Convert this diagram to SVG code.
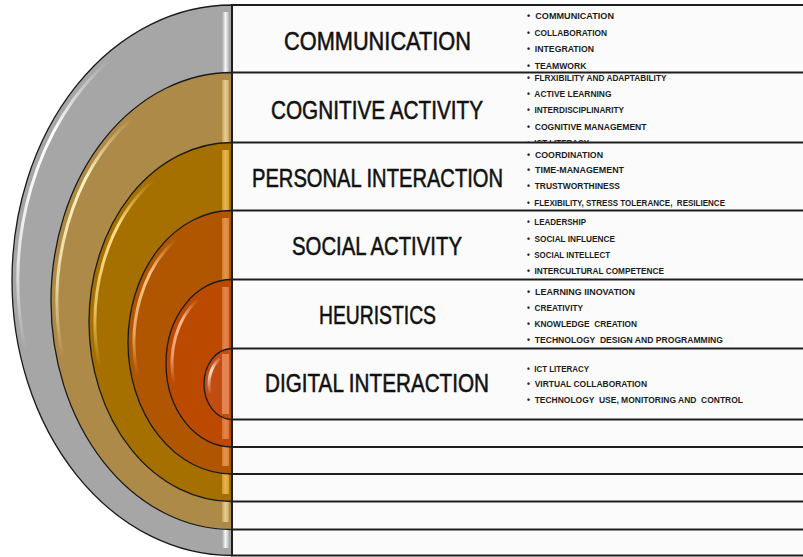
<svg xmlns="http://www.w3.org/2000/svg" width="803" height="557" viewBox="0 0 803 557">
<style>
.row{fill:#fbfbfb;stroke:#1e1e1e;stroke-width:2}
.ring{stroke:#1a1a1a;stroke-width:1.3}
.hl{fill:none;stroke-width:3;stroke-linecap:round;filter:url(#soft)}
.lbl{font-family:"Liberation Sans",Arial,sans-serif;font-size:26px;fill:#111;stroke:#111;stroke-width:0.55;text-anchor:end}
.itm{font-family:"Liberation Sans",Arial,sans-serif;font-weight:bold;font-size:9px;fill:#1c1c1c;white-space:pre}
</style>
<defs>
<filter id="soft" x="-20%" y="-20%" width="140%" height="140%"><feGaussianBlur stdDeviation="0.7"/></filter>
<linearGradient id="hlw" x1="0" y1="0" x2="0" y2="1"><stop offset="0" stop-color="#fff" stop-opacity="0"/><stop offset="0.25" stop-color="#fff" stop-opacity="1"/><stop offset="0.7" stop-color="#fff" stop-opacity="0.7"/><stop offset="1" stop-color="#fff" stop-opacity="0"/></linearGradient>
<linearGradient id="hlt" x1="0" y1="0" x2="0" y2="1"><stop offset="0" stop-color="#fff4c0" stop-opacity="0"/><stop offset="0.25" stop-color="#fff4c0" stop-opacity="1"/><stop offset="0.7" stop-color="#fff4c0" stop-opacity="0.7"/><stop offset="1" stop-color="#fff4c0" stop-opacity="0"/></linearGradient>
<linearGradient id="hlg" x1="0" y1="0" x2="0" y2="1"><stop offset="0" stop-color="#ffe08a" stop-opacity="0"/><stop offset="0.25" stop-color="#ffe08a" stop-opacity="1"/><stop offset="0.7" stop-color="#ffe08a" stop-opacity="0.7"/><stop offset="1" stop-color="#ffe08a" stop-opacity="0"/></linearGradient>
<linearGradient id="hlb" x1="0" y1="0" x2="0" y2="1"><stop offset="0" stop-color="#ffc488" stop-opacity="0"/><stop offset="0.25" stop-color="#ffc488" stop-opacity="1"/><stop offset="0.7" stop-color="#ffc488" stop-opacity="0.7"/><stop offset="1" stop-color="#ffc488" stop-opacity="0"/></linearGradient>
<linearGradient id="hlr" x1="0" y1="0" x2="0" y2="1"><stop offset="0" stop-color="#ffb890" stop-opacity="0"/><stop offset="0.25" stop-color="#ffb890" stop-opacity="1"/><stop offset="0.7" stop-color="#ffb890" stop-opacity="0.7"/><stop offset="1" stop-color="#ffb890" stop-opacity="0"/></linearGradient>
<linearGradient id="hls" x1="0" y1="0" x2="0" y2="1"><stop offset="0" stop-color="#ffe4d0" stop-opacity="0.2"/><stop offset="0.35" stop-color="#ffe4d0" stop-opacity="1"/><stop offset="1" stop-color="#ffe4d0" stop-opacity="0.1"/></linearGradient>
<linearGradient id="strip" x1="0" y1="0" x2="1" y2="0"><stop offset="0" stop-color="#fff" stop-opacity="0"/><stop offset="0.5" stop-color="#fff" stop-opacity="1"/><stop offset="1" stop-color="#fff" stop-opacity="0.2"/></linearGradient>
<clipPath id="c2"><rect x="232" y="74" width="571" height="69"/></clipPath>
</defs>

<g id="layer-communication">
<path class="ring" d="M232,5 A220,275.25 0 0 0 232,555.5 Z" fill="#a6a6a6"/>
<path class="hl" d="M109.3,59.9 A214,269 0 0 0 25.3,349.9" stroke="url(#hlw)"/>
<rect x="222" y="12" width="7" height="536" fill="url(#strip)" opacity="0.9"/>
<rect class="row" x="232" y="5" width="600" height="550.5" fill="#f6f6f6"/>
<text class="lbl" x="471" y="50" textLength="187" lengthAdjust="spacingAndGlyphs">COMMUNICATION</text>
<text class="itm" x="527" y="19" textLength="87" lengthAdjust="spacingAndGlyphs">•  COMMUNICATION</text>
<text class="itm" x="527" y="35.5" textLength="80" lengthAdjust="spacingAndGlyphs">•  COLLABORATION</text>
<text class="itm" x="527" y="52" textLength="67" lengthAdjust="spacingAndGlyphs">•  INTEGRATION</text>
<text class="itm" x="527" y="69" textLength="59.5" lengthAdjust="spacingAndGlyphs">•  TEAMWORK</text>
</g>

<g id="layer-cognitive">
<path class="ring" d="M232,72.5 A181,228.5 0 0 0 232,529.5 Z" fill="#ae8a48"/>
<path class="hl" d="M131.6,118.7 A175,222.5 0 0 0 63,358.6" stroke="url(#hlt)"/>
<rect x="222" y="80" width="7" height="442" fill="url(#strip)" opacity="0.55"/>
<rect x="222" y="80" width="7" height="442" fill="#ffd86a" opacity="0.3"/>
<rect class="row" x="232" y="72.5" width="600" height="457" fill="#f8f8f8"/>
<text class="lbl" x="483" y="119" textLength="212" lengthAdjust="spacingAndGlyphs">COGNITIVE ACTIVITY</text>
<g clip-path="url(#c2)">
<text class="itm" x="527" y="80.7" textLength="139.5" lengthAdjust="spacingAndGlyphs">•  FLRXIBILITY AND ADAPTABILITY</text>
<text class="itm" x="527" y="96.5" textLength="84.5" lengthAdjust="spacingAndGlyphs">•  ACTIVE LEARNING</text>
<text class="itm" x="527" y="113" textLength="97" lengthAdjust="spacingAndGlyphs">•  INTERDISCIPLINARITY</text>
<text class="itm" x="527" y="129.5" textLength="119.5" lengthAdjust="spacingAndGlyphs">•  COGNITIVE MANAGEMENT</text>
<text class="itm" x="527" y="146" textLength="62" lengthAdjust="spacingAndGlyphs">•  ICT LITERACY</text>
</g>
</g>

<g id="layer-personal">
<path class="ring" d="M232,142.5 A143,179.5 0 0 0 232,501.5 Z" fill="#a67000"/>
<path class="hl" d="M153.4,179.9 A137,173.5 0 0 0 99.7,366.9" stroke="url(#hlg)"/>
<rect x="222" y="150" width="7" height="344" fill="url(#strip)" opacity="0.4"/>
<rect x="222" y="150" width="7" height="344" fill="#ffc440" opacity="0.5"/>
<rect class="row" x="232" y="142.5" width="600" height="359" fill="#fbfbfb"/>
<text class="lbl" x="503" y="187" textLength="251" lengthAdjust="spacingAndGlyphs">PERSONAL INTERACTION</text>
<text class="itm" x="527" y="157.5" textLength="76" lengthAdjust="spacingAndGlyphs">•  COORDINATION</text>
<text class="itm" x="527" y="173" textLength="97" lengthAdjust="spacingAndGlyphs">•  TIME-MANAGEMENT</text>
<text class="itm" x="527" y="189" textLength="93" lengthAdjust="spacingAndGlyphs">•  TRUSTWORTHINESS</text>
<text class="itm" x="527" y="205.7" textLength="198" lengthAdjust="spacingAndGlyphs">•  FLEXIBILITY, STRESS TOLERANCE,  RESILIENCE</text>
</g>

<g id="layer-social">
<path class="ring" d="M232,210.5 A104,131.75 0 0 0 232,474 Z" fill="#b05600"/>
<path class="hl" d="M175.8,239.3 A98,125.75 0 0 0 137.3,374.8" stroke="url(#hlb)"/>
<rect x="222" y="218" width="7" height="248" fill="url(#strip)" opacity="0.3"/>
<rect x="222" y="218" width="7" height="248" fill="#f5a050" opacity="0.55"/>
<rect class="row" x="232" y="210.5" width="600" height="263.5" fill="#fcfcfc"/>
<text class="lbl" x="462" y="255" textLength="170" lengthAdjust="spacingAndGlyphs">SOCIAL ACTIVITY</text>
<text class="itm" x="527" y="225" textLength="59" lengthAdjust="spacingAndGlyphs">•  LEADERSHIP</text>
<text class="itm" x="527" y="241.7" textLength="88" lengthAdjust="spacingAndGlyphs">•  SOCIAL INFLUENCE</text>
<text class="itm" x="527" y="257.7" textLength="83" lengthAdjust="spacingAndGlyphs">•  SOCIAL INTELLECT</text>
<text class="itm" x="527" y="274" textLength="137" lengthAdjust="spacingAndGlyphs">•  INTERCULTURAL COMPETENCE</text>
</g>

<g id="layer-heuristics">
<path class="ring" d="M232,279.5 A66,83.75 0 0 0 232,447 Z" fill="#bb4a00"/>
<path class="hl" d="M197.6,299.6 A60,77.75 0 0 0 174,383.4" stroke="url(#hlr)"/>
<rect x="222" y="287" width="7" height="152" fill="url(#strip)" opacity="0.3"/>
<rect x="222" y="287" width="7" height="152" fill="#f08a50" opacity="0.6"/>
<rect class="row" x="232" y="279.5" width="600" height="167.5" fill="#fcfcfc"/>
<text class="lbl" x="436" y="324" textLength="117" lengthAdjust="spacingAndGlyphs">HEURISTICS</text>
<text class="itm" x="527" y="295" textLength="108" lengthAdjust="spacingAndGlyphs">•  LEARNING IINOVATION</text>
<text class="itm" x="527" y="311" textLength="56" lengthAdjust="spacingAndGlyphs">•  CREATIVITY</text>
<text class="itm" x="527" y="326.7" textLength="110" lengthAdjust="spacingAndGlyphs">•  KNOWLEDGE  CREATION</text>
<text class="itm" x="527" y="343.3" textLength="196" lengthAdjust="spacingAndGlyphs">•  TECHNOLOGY  DESIGN AND PROGRAMMING</text>
</g>

<g id="layer-digital">
<path class="ring" d="M232,348.5 A28,35.5 0 0 0 232,419.5 Z" fill="#c24d12"/>
<path class="hl" d="M218.8,359.4 A23,30 0 0 0 209.8,391.8" stroke="url(#hls)" stroke-width="3.2"/>
<rect x="222" y="354" width="7" height="60" fill="#f5a070" opacity="0.65"/>
<rect class="row" x="232" y="348.5" width="600" height="71" fill="#fdfdfd"/>
<text class="lbl" x="489" y="392" textLength="224" lengthAdjust="spacingAndGlyphs">DIGITAL INTERACTION</text>
<text class="itm" x="527" y="371.7" textLength="62" lengthAdjust="spacingAndGlyphs">•  ICT LITERACY</text>
<text class="itm" x="527" y="386.7" textLength="120" lengthAdjust="spacingAndGlyphs">•  VIRTUAL COLLABORATION</text>
<text class="itm" x="527" y="402.7" textLength="216" lengthAdjust="spacingAndGlyphs">•  TECHNOLOGY  USE, MONITORING AND  CONTROL</text>
</g>

<g id="connectors"></g>
</svg>
